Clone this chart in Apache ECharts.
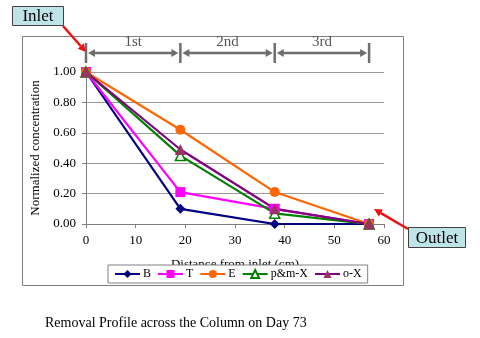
<!DOCTYPE html>
<html>
<head>
<meta charset="utf-8">
<script src="https://cdn.jsdelivr.net/npm/echarts@6/dist/echarts.min.js"></script>
<style>
  html, body { margin: 0; padding: 0; background: #fff; }
  #chart { width: 480px; height: 338px; }
</style>
</head>
<body>
<div id="chart"></div>
<script>
// Distance from the inlet (cm) at each sampling port
const distances = [0, 19, 38, 57];
// Normalized concentration per compound
const seriesB = [1.00, 0.10, 0.00, 0.00];
const seriesT = [1.00, 0.21, 0.10, 0.00];
const seriesE = [1.00, 0.62, 0.21, 0.00];
const seriesPMX = [1.00, 0.45, 0.07, 0.00];
const seriesOX = [1.00, 0.49, 0.10, 0.00];
const seriesNames = ['B', 'T', 'E', 'p&m-X', 'o-X'];
// Column sections between ports
const sectionLabels = ['1st', '2nd', '3rd'];

const SERIF = '"Liberation Serif", "Times New Roman", serif';

function pairs(vals) { return distances.map((d, i) => [d, vals[i]]); }

const chart = echarts.init(document.getElementById('chart'), null, { renderer: 'canvas' });

function lineSeries(name, vals, color, symbol, size, fill, lineColor) {
  return {
    name: name,
    type: 'line',
    data: pairs(vals),
    symbol: symbol,
    symbolSize: size,
    showAllSymbol: true,
    lineStyle: { color: lineColor || color, width: 2.2 },
    itemStyle: { color: fill || color, borderColor: color, borderWidth: fill ? 1.5 : 0 },
    emphasis: { disabled: true },
    animation: false
  };
}

const option = {
  animation: false,
  backgroundColor: '#fff',
  grid: { left: 86, right: 96, top: 72, bottom: 114 },
  xAxis: {
    type: 'value', min: 0, max: 60, interval: 10,
    name: 'Distance from inlet (cm)', nameLocation: 'middle', nameGap: 34,
    nameTextStyle: { fontFamily: SERIF, fontSize: 13, color: '#000' },
    axisLine: { show: true, lineStyle: { color: '#808080', width: 1 } },
    axisTick: { show: true, length: 4, lineStyle: { color: '#808080' } },
    axisLabel: { fontFamily: SERIF, fontSize: 13, color: '#000', margin: 10 },
    splitLine: { show: false }
  },
  yAxis: {
    type: 'value', min: 0, max: 1, interval: 0.2,
    name: 'Normalized concentration', nameLocation: 'middle', nameGap: 44,
    nameTextStyle: { fontFamily: SERIF, fontSize: 13, color: '#000' },
    axisLine: { show: true, lineStyle: { color: '#808080', width: 1 } },
    axisTick: { show: true, length: 4, lineStyle: { color: '#808080' } },
    axisLabel: { fontFamily: SERIF, fontSize: 13, color: '#000', margin: 10,
      formatter: v => v.toFixed(2) },
    splitLine: { show: true, lineStyle: { color: '#9a9a9a', width: 1 } }
  },
  legend: {
    data: seriesNames,
    left: 108, top: 265, width: 360,
    padding: [3, 6, 3, 6],
    itemGap: 6, itemWidth: 25, itemHeight: 10,
    backgroundColor: '#fff',
    borderColor: '#808080', borderWidth: 1,
    textStyle: { fontFamily: SERIF, fontSize: 12, color: '#000', padding: [0, 0, 0, -2] },
    z: 10
  },
  series: [
    lineSeries('B', seriesB, '#000080', 'diamond', 10),
    lineSeries('T', seriesT, '#ff00ff', 'rect', 10),
    lineSeries('E', seriesE, '#ff6600', 'circle', 10),
    lineSeries('p&m-X', seriesPMX, '#008000', 'triangle', 10, '#ffffff'),
    lineSeries('o-X', seriesOX, '#993366', 'triangle', 11, null, '#800080')
  ]
};

chart.setOption(option);

// Annotations: section dimension arrows, inlet/outlet callouts, caption, frame
const gray = '#6e6e6e';
const dimY = 53;
const portX = distances.map(d => chart.convertToPixel({ xAxisIndex: 0 }, d));
const g = [];

// chart frame
g.push({ type: 'rect', shape: { x: 22.5, y: 36.5, width: 381, height: 249 },
  style: { fill: null, stroke: '#808080', lineWidth: 1 }, z: 0, silent: true });

portX.forEach(x => {
  g.push({ type: 'line', shape: { x1: x, y1: dimY - 10, x2: x, y2: dimY + 10 },
    style: { stroke: gray, lineWidth: 2.5 }, z: 20 });
});
for (let i = 0; i < 3; i++) {
  const a = portX[i] + 2, b = portX[i + 1] - 2;
  g.push({ type: 'line', shape: { x1: a + 4, y1: dimY, x2: b - 4, y2: dimY },
    style: { stroke: gray, lineWidth: 2.5 }, z: 20 });
  g.push({ type: 'polygon', shape: { points: [[a, dimY], [a + 7, dimY - 4], [a + 7, dimY + 4]] },
    style: { fill: gray }, z: 20 });
  g.push({ type: 'polygon', shape: { points: [[b, dimY], [b - 7, dimY - 4], [b - 7, dimY + 4]] },
    style: { fill: gray }, z: 20 });
  g.push({ type: 'text', x: (portX[i] + portX[i + 1]) / 2, y: dimY - 3,
    style: { text: sectionLabels[i], fontFamily: SERIF, fontSize: 15, fill: '#555',
      align: 'center', verticalAlign: 'bottom' }, z: 20 });
}

function callout(x, y, w, h, label) {
  g.push({ type: 'rect', shape: { x: x + 0.5, y: y + 0.5, width: w, height: h },
    style: { fill: '#bfe4e8', stroke: '#404040', lineWidth: 1 }, z: 30 });
  g.push({ type: 'text', x: x + w / 2 + 0.5, y: y + h / 2 + 1.5,
    style: { text: label, fontFamily: SERIF, fontSize: 17, fill: '#000',
      align: 'center', verticalAlign: 'middle' }, z: 31 });
}
function redArrow(x1, y1, x2, y2) {
  const ang = Math.atan2(y2 - y1, x2 - x1), L = 8, W = 4;
  const bx = x2 - L * Math.cos(ang), by = y2 - L * Math.sin(ang);
  g.push({ type: 'line', shape: { x1: x1, y1: y1, x2: bx, y2: by },
    style: { stroke: '#ee1111', lineWidth: 2.5 }, z: 29 });
  g.push({ type: 'polygon', shape: { points: [[x2, y2],
    [bx + W * Math.sin(ang), by - W * Math.cos(ang)],
    [bx - W * Math.sin(ang), by + W * Math.cos(ang)]] },
    style: { fill: '#ee1111' }, z: 29 });
}
redArrow(63, 26, portX[0], 52);
callout(12, 6, 51, 19, 'Inlet');
redArrow(408, 229, 374, 209);
callout(408, 227, 57, 20, 'Outlet');

g.push({ type: 'text', x: 45, y: 323,
  style: { text: 'Removal Profile across the Column on Day 73', fontFamily: SERIF,
    fontSize: 14, fill: '#000', verticalAlign: 'middle' }, z: 20 });

chart.setOption({ graphic: g });
</script>
</body>
</html>
